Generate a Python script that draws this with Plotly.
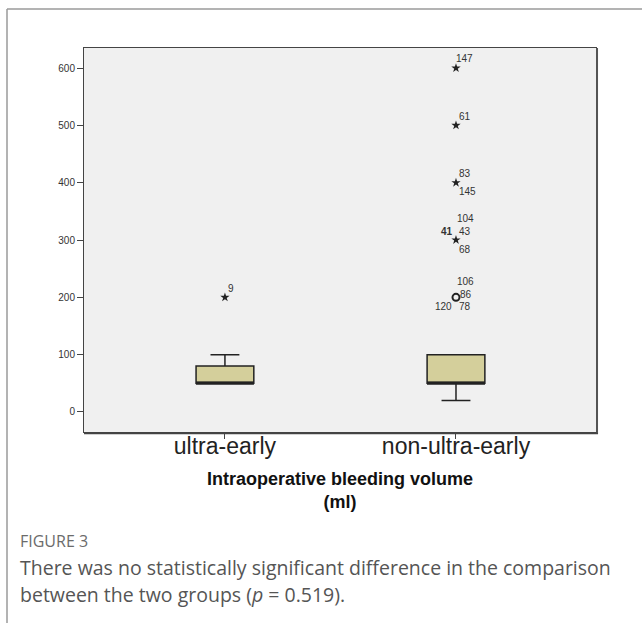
import plotly.graph_objects as go

# Box summary per group (ml)
groups = ["ultra-early", "non-ultra-early"]
q1 = [50, 50]
median = [50, 50]
q3 = [80, 100]
lower_whisker = [50, 20]
upper_whisker = [100, 100]

# Extreme outliers (stars) and mild outliers (circles)
extreme_group = ["ultra-early", "non-ultra-early", "non-ultra-early", "non-ultra-early", "non-ultra-early"]
extreme_value = [200, 600, 500, 400, 300]
mild_group = ["non-ultra-early"]
mild_value = [200]

# Case numbers printed beside the outliers
case_group = ["ultra-early", "non-ultra-early", "non-ultra-early", "non-ultra-early", "non-ultra-early",
              "non-ultra-early", "non-ultra-early", "non-ultra-early", "non-ultra-early",
              "non-ultra-early", "non-ultra-early", "non-ultra-early", "non-ultra-early"]
case_value = [200, 600, 500, 400, 400, 300, 300, 300, 300, 200, 200, 200, 200]
case_label = ["9", "147", "61", "83", "145", "104", "41", "43", "68", "106", "86", "120", "78"]
# pixel offsets of each case number from its point
case_dx = [6, 9, 9, 9, 12, 10, -9, 9, 9, 10, 10, -12, 9]
case_dy = [-9, -10, -9, -9, 9, -22, -9, -9, 9, -16, -3, 9, 9]
case_bold = [False, False, False, False, False, False, True, False, False, False, False, False, False]

BOX_FILL = "#D4CF9B"
INK = "#222222"
BOX_PX = 58  # box width in pixels (0.25 category units)

fig = go.Figure()

fig.add_trace(go.Box(
    x=groups, q1=q1, median=median, q3=q3,
    lowerfence=lower_whisker, upperfence=upper_whisker,
    fillcolor=BOX_FILL, line=dict(color=INK, width=1.5),
    width=0.25, whiskerwidth=0.5, boxpoints=False,
    hoverinfo="skip", showlegend=False,
))

# Heavy median bar (line-ew marker spans 1.4 x size)
fig.add_trace(go.Scatter(
    x=groups, y=median, mode="markers",
    marker=dict(symbol="line-ew", size=BOX_PX / 1.4, line=dict(color=INK, width=3)),
    hoverinfo="skip", showlegend=False,
))

fig.add_trace(go.Scatter(
    x=extreme_group, y=extreme_value, mode="markers",
    marker=dict(symbol="star", size=7, color=INK, line=dict(width=0)),
    showlegend=False,
))

fig.add_trace(go.Scatter(
    x=mild_group, y=mild_value, mode="markers",
    marker=dict(symbol="circle-open", size=7, color=INK, line=dict(width=2)),
    showlegend=False,
))

for g, v, t, dx, dy, b in zip(case_group, case_value, case_label, case_dx, case_dy, case_bold):
    fig.add_annotation(
        x=g, y=v, text=f"<b>{t}</b>" if b else t, showarrow=False,
        xshift=dx, yshift=-dy, xanchor="center", yanchor="middle",
        font=dict(family="Arial, Liberation Sans", size=10, color="#333333"),
    )

frame = "#9a9a9a"
# Outer panel rules (top and left)
fig.add_shape(type="line", xref="paper", yref="paper",
              x0=(7 - 84) / 512, x1=(642 - 84) / 512, y0=(432 - 9) / 384, y1=(432 - 9) / 384,
              line=dict(color=frame, width=1.5))
fig.add_shape(type="line", xref="paper", yref="paper",
              x0=(7 - 84) / 512, x1=(7 - 84) / 512, y0=(432 - 9) / 384, y1=(432 - 623) / 384,
              line=dict(color=frame, width=1.5))
# Heavier right and bottom edges of the plot frame
fig.add_shape(type="line", xref="paper", yref="paper", x0=1.002, x1=1.002, y0=-0.002, y1=1,
              line=dict(color="#555555", width=2))
fig.add_shape(type="line", xref="paper", yref="paper", x0=0, x1=1.004, y0=-0.003, y1=-0.003,
              line=dict(color="#444444", width=2))

fig.add_annotation(xref="paper", yref="paper", x=0.5, y=(432 - 490) / 384,
                   text="<b>Intraoperative bleeding volume<br>(ml)</b>", showarrow=False,
                   xanchor="center", yanchor="middle",
                   font=dict(family="Arial, Liberation Sans", size=18, color="#111111"))

fig.add_annotation(xref="paper", yref="paper", x=(18 - 84) / 512, y=(432 - 541) / 384,
                   text="FIGURE 3", showarrow=False, xanchor="left", yanchor="middle",
                   font=dict(family="Open Sans", size=16, color="#6b6b6b"))
fig.add_annotation(xref="paper", yref="paper", x=(18 - 84) / 512, y=(432 - 567) / 384,
                   text="There was no statistically significant difference in the comparison",
                   showarrow=False, xanchor="left", yanchor="middle",
                   font=dict(family="Open Sans", size=19.5, color="#555555"))
fig.add_annotation(xref="paper", yref="paper", x=(18 - 84) / 512, y=(432 - 594) / 384,
                   text="between the two groups (<i>p</i> = 0.519).",
                   showarrow=False, xanchor="left", yanchor="middle",
                   font=dict(family="Open Sans", size=19.5, color="#555555"))

fig.update_layout(
    width=642, height=623,
    margin=dict(l=84, r=46, t=48, b=191),
    paper_bgcolor="white", plot_bgcolor="#F0F0F0",
    showlegend=False,
    xaxis=dict(
        type="category", categoryorder="array", categoryarray=groups,
        range=[-0.61, 1.606], showgrid=False, zeroline=False,
        showline=True, mirror=True, linecolor="#444444", linewidth=1,
        ticks="outside", ticklen=6, tickcolor="#444444", ticklabelstandoff=-13,
        tickfont=dict(family="Arial, Liberation Sans", size=23, color="#222222"),
    ),
    yaxis=dict(
        range=[-35, 635], tickvals=[0, 100, 200, 300, 400, 500, 600],
        showgrid=False, zeroline=False,
        showline=True, mirror=True, linecolor="#444444", linewidth=1,
        ticks="outside", ticklen=6, tickcolor="#444444",
        tickfont=dict(family="Arial, Liberation Sans", size=10, color="#333333"),
    ),
)

fig.write_html("out.html")
